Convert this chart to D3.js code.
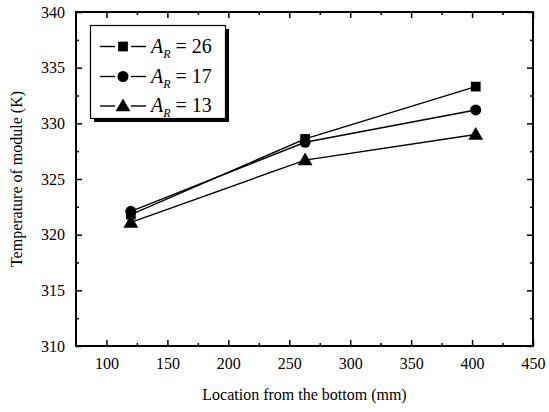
<!DOCTYPE html>
<html>
<head>
<meta charset="utf-8">
<script src="https://cdn.jsdelivr.net/npm/d3@7"></script>
<style>
  body { margin: 0; background: #fff; }
  text { font-family: "Liberation Serif", "DejaVu Serif", serif; fill: #000; }
</style>
</head>
<body>
<div id="chart"></div>
<script>
// data
var locations = [120, 263, 403];
var seriesNames = ["26", "17", "13"];
var seriesSymbols = ["square", "circle", "triangle"];
var valuesAR26 = [321.8, 328.6, 333.3];
var valuesAR17 = [322.1, 328.3, 331.2];
var valuesAR13 = [321.1, 326.7, 329.0];
var xTicks = [100, 150, 200, 250, 300, 350, 400, 450];
var yTicks = [310, 315, 320, 325, 330, 335, 340];

var W = 549, H = 412;
var plotL = 76, plotR = 533, plotT = 12, plotB = 346;

var svg = d3.select("#chart").append("svg")
    .attr("width", W).attr("height", H);

var x = d3.scaleLinear().domain([75, 450]).range([plotL, plotR]);
var y = d3.scaleLinear().domain([310, 340]).range([plotB, plotT]);

var series = [valuesAR26, valuesAR17, valuesAR13];

// minor tick values
var xMinor = [];
for (var v = 125; v < 450; v += 50) xMinor.push(v);
var yMinor = [];
for (var w = 312.5; w < 340; w += 5) yMinor.push(w);

function drawAxis(axis, tx, ty)
{
    var g = svg.append("g").attr("transform", "translate(" + tx + "," + ty + ")").call(axis);
    g.select(".domain").remove();
    g.selectAll("line").attr("stroke", "#000").attr("stroke-width", 1.5);
    g.selectAll("text").style("font-size", "16px");
    return g;
}

// bottom axis with labels
drawAxis(d3.axisBottom(x).tickValues(xTicks).tickSize(-6).tickPadding(12).tickFormat(d3.format("d")), 0, plotB);
drawAxis(d3.axisBottom(x).tickValues(xMinor).tickSize(-3).tickFormat(""), 0, plotB);
// top axis mirror
drawAxis(d3.axisTop(x).tickValues(xTicks).tickSize(-6).tickFormat(""), 0, plotT);
drawAxis(d3.axisTop(x).tickValues(xMinor).tickSize(-3).tickFormat(""), 0, plotT);
// left axis with labels
drawAxis(d3.axisLeft(y).tickValues(yTicks).tickSize(-6).tickPadding(11).tickFormat(d3.format("d")), plotL, 0);
drawAxis(d3.axisLeft(y).tickValues(yMinor).tickSize(-3).tickFormat(""), plotL, 0);
// right axis mirror
drawAxis(d3.axisRight(y).tickValues(yTicks).tickSize(-6).tickFormat(""), plotR, 0);
drawAxis(d3.axisRight(y).tickValues(yMinor).tickSize(-3).tickFormat(""), plotR, 0);

// frame
svg.append("rect")
    .attr("x", plotL).attr("y", plotT)
    .attr("width", plotR - plotL).attr("height", plotB - plotT)
    .attr("fill", "none").attr("stroke", "#000").attr("stroke-width", 2);

var symbolTypes = { square: d3.symbolSquare, circle: d3.symbolCircle, triangle: d3.symbolTriangle };
var symbolSizes = { square: 95, circle: 95, triangle: 95 };

var line = d3.line()
    .x(function(d, i) { return x(locations[i]); })
    .y(function(d) { return y(d); });

for (var s = 0; s < series.length; s++)
{
    svg.append("path")
        .datum(series[s])
        .attr("d", line)
        .attr("fill", "none")
        .attr("stroke", "#000")
        .attr("stroke-width", 1.4);

    var sym = d3.symbol().type(symbolTypes[seriesSymbols[s]]).size(symbolSizes[seriesSymbols[s]]);
    svg.selectAll(".pt" + s)
        .data(series[s])
        .enter().append("path")
        .attr("class", "pt" + s)
        .attr("d", sym)
        .attr("fill", "#000")
        .attr("transform", function(d, i) {
            var dy = seriesSymbols[s] === "triangle" ? 1 : 0;
            return "translate(" + x(locations[i]) + "," + (y(d) + dy) + ")";
        });
}

// legend
var lg = svg.append("g");
lg.append("rect").attr("x", 94).attr("y", 29).attr("width", 135).attr("height", 93).attr("fill", "#000");
lg.append("rect").attr("x", 90.5).attr("y", 25.5).attr("width", 135).attr("height", 93)
    .attr("fill", "#fff").attr("stroke", "#000").attr("stroke-width", 1.2);

var rowY = [46.5, 76.5, 106];
for (var k = 0; k < seriesNames.length; k++)
{
    lg.append("line").attr("x1", 100).attr("x2", 115).attr("y1", rowY[k]).attr("y2", rowY[k])
        .attr("stroke", "#000").attr("stroke-width", 1.4);
    lg.append("line").attr("x1", 131).attr("x2", 146).attr("y1", rowY[k]).attr("y2", rowY[k])
        .attr("stroke", "#000").attr("stroke-width", 1.4);
    var sy = d3.symbol().type(symbolTypes[seriesSymbols[k]]).size(symbolSizes[seriesSymbols[k]]);
    lg.append("path").attr("d", sy).attr("fill", "#000")
        .attr("transform", "translate(123," + (rowY[k] + (seriesSymbols[k] === "triangle" ? 1 : 0)) + ")");
    var t = lg.append("text").attr("x", 151).attr("y", rowY[k] + 6).style("font-size", "20px");
    t.append("tspan").style("font-style", "italic").text("A");
    t.append("tspan").style("font-style", "italic").style("font-size", "12px").attr("dy", 5).text("R");
    t.append("tspan").attr("dy", -5).text(" = " + seriesNames[k]);
}

// axis titles
svg.append("text")
    .attr("x", (plotL + plotR) / 2).attr("y", 400)
    .attr("text-anchor", "middle").style("font-size", "16px")
    .text("Location from the bottom (mm)");

svg.append("text")
    .attr("transform", "translate(22," + ((plotT + plotB) / 2) + ") rotate(-90)")
    .attr("text-anchor", "middle").style("font-size", "16px")
    .text("Temperature of module (K)");
</script>
</body>
</html>
